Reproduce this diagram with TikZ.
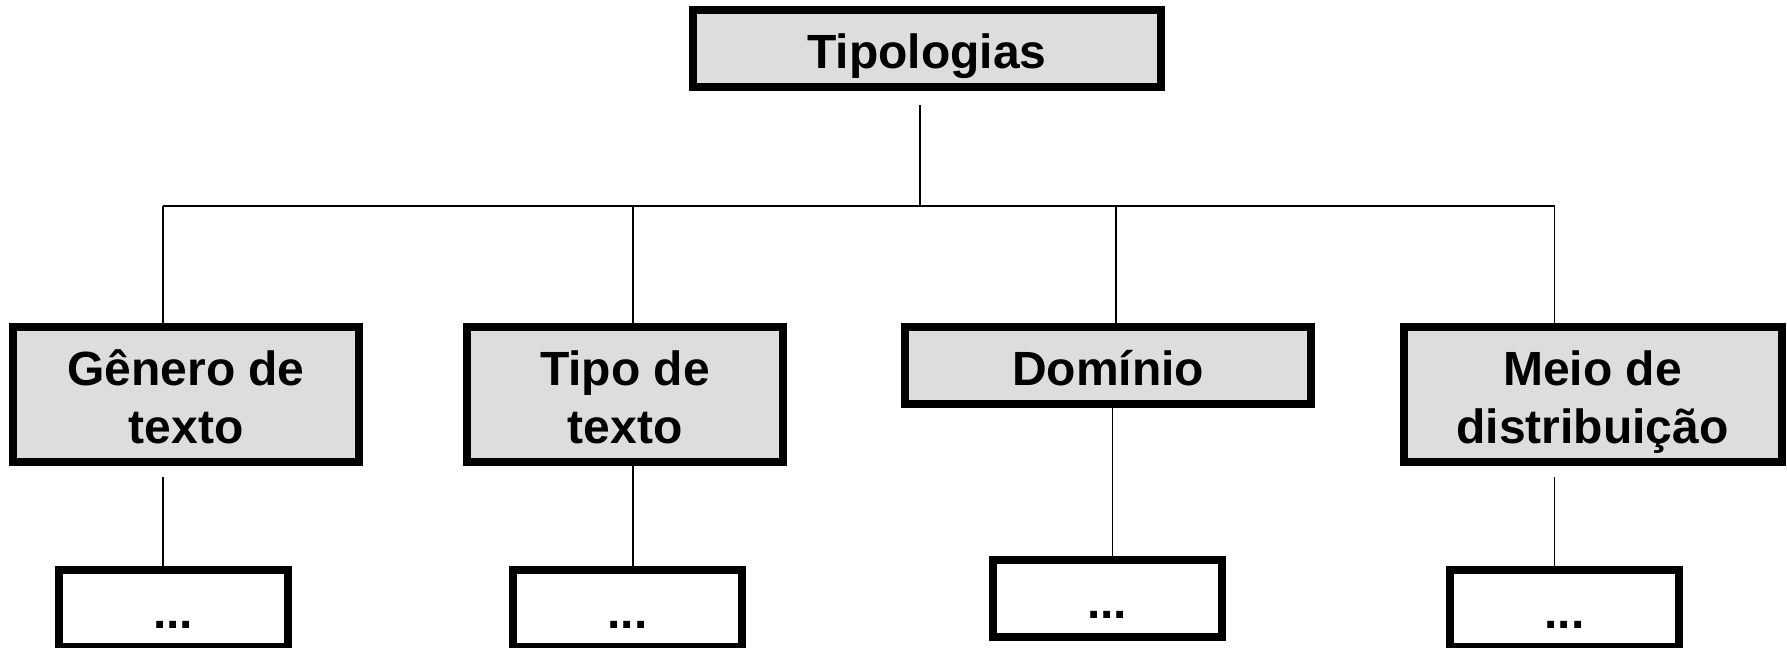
\documentclass[tikz,border=0pt]{standalone}
\usepackage{fontspec}
\setmainfont{Liberation Sans}
\definecolor{boxgrey}{HTML}{DDDDDD}
\tikzset{
  box/.style={draw=black, line width=6pt, fill=boxgrey, inner sep=0pt,
    align=center, font=\bfseries\fontsize{36}{43.5}\selectfont},
  oneline/.style={text height=30pt, text depth=0pt},
  twoline/.style={text height=73.2pt, text depth=0pt},
  smallbox/.style={draw=black, line width=6pt, fill=white, inner sep=0pt,
    minimum width=229*0.75pt, minimum height=77*0.75pt,
    text height=30pt, text depth=0pt,
    font=\bfseries\fontsize{36}{43.5}\selectfont},
  conn/.style={draw=black, line width=1.1pt}
}
\begin{document}
\begin{tikzpicture}[x=0.75pt, y=-0.75pt]
\useasboundingbox (0,0) rectangle (1787,648);
% top
\node[box, oneline, minimum width=468*0.75pt, minimum height=77*0.75pt] (top) at (927,48.5) {Tipologias};
% level 2
\node[box, twoline, minimum width=346*0.75pt, minimum height=135*0.75pt] (b1) at (186,394.5) {Gênero de\\texto};
\node[box, twoline, minimum width=316*0.75pt, minimum height=135*0.75pt] (b2) at (625,394.5) {Tipo de\\texto};
\node[box, oneline, minimum width=406.5*0.75pt, minimum height=77*0.75pt] (b3) at (1108,365.5) {Domínio};
\node[box, twoline, minimum width=378*0.75pt, minimum height=135*0.75pt] (b4) at (1592.5,394.5) {Meio de\\distribuição};
% level 3
\node[smallbox] (s1) at (173.3,608.5) {...};
\node[smallbox] (s2) at (627.5,608.5) {...};
\node[smallbox] (s3) at (1107,598.5) {...};
\node[smallbox] (s4) at (1564.5,608.5) {...};
% bus coordinates
\coordinate (j) at (920,206);
\coordinate (c1) at (163,206);
\coordinate (c2) at (633,206);
\coordinate (c3) at (1116,206);
\coordinate (c4) at (1554.5,206);
\coordinate (d3) at (1112.5,0);
% connectors
\draw[conn] (top.south -| j) ++(0,14) -- (j);
\draw[conn] (c1) -- (c4);
\draw[conn] (c1) -- (c1 |- b1.north);
\draw[conn] (c2) -- (c2 |- b2.north);
\draw[conn] (c3) -- (c3 |- b3.north);
\draw[conn] (c4) -- (c4 |- b4.north);
\draw[conn] (c1 |- b1.south) ++(0,11) -- (c1 |- s1.north);
\draw[conn] (c2 |- b2.south) -- (c2 |- s2.north);
\draw[conn] (d3 |- b3.south) -- (d3 |- s3.north);
\draw[conn] (c4 |- b4.south) ++(0,11) -- (c4 |- s4.north);
\end{tikzpicture}
\end{document}
